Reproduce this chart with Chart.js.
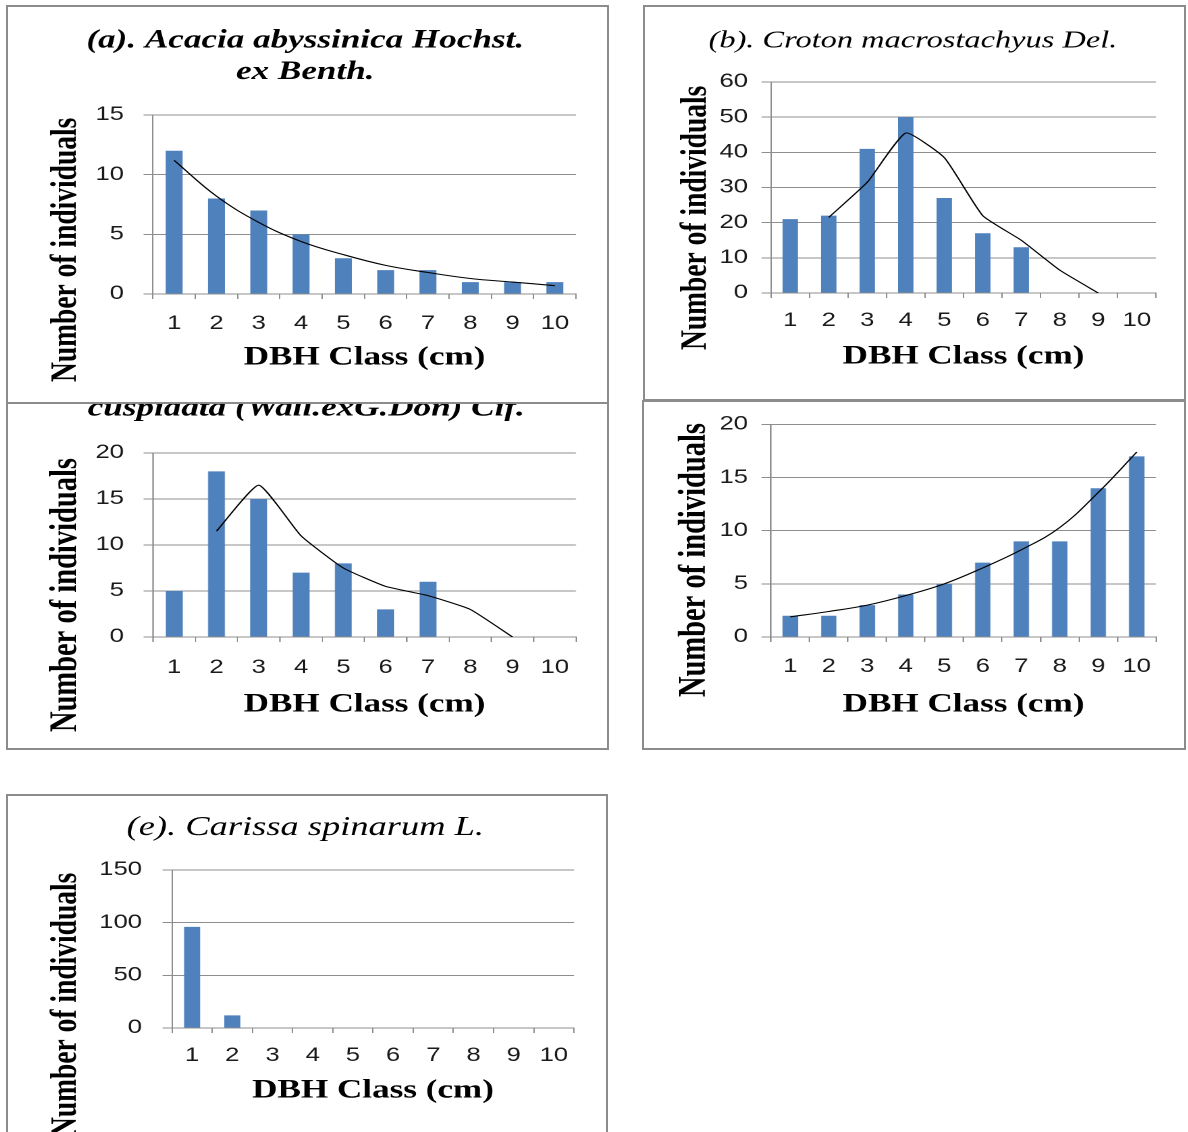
<!DOCTYPE html>
<html>
<head>
<meta charset="utf-8">
<script src="https://cdn.jsdelivr.net/npm/chart.js@4.4.0/dist/chart.umd.min.js"></script>
<style>
html, body { margin: 0; padding: 0; background: #ffffff; }
body { width: 1188px; height: 1132px; overflow: hidden; position: relative; }
.frame { position: absolute; border: 2px solid #8c8c8c; box-sizing: border-box; }
.holder { position: absolute; transform-origin: 0 0; }
.holder canvas { display: block; }
</style>
</head>
<body>
<script>
// ---------------- DATA ----------------
const dbhClasses = ['1', '2', '3', '4', '5', '6', '7', '8', '9', '10'];

const acaciaTitle = ['(a). Acacia abyssinica Hochst.', 'ex Benth.'];
const acaciaCounts = [12, 8, 7, 5, 3, 2, 2, 1, 1, 1];
const acaciaTrend = [11.2, 8.2, 6.0, 4.4, 3.3, 2.4, 1.8, 1.3, 1.0, 0.7];
const acaciaYTicks = [0, 5, 10, 15];

const crotonTitle = ['(b). Croton macrostachyus Del.'];
const crotonCounts = [21, 22, 41, 50, 27, 17, 13, 0, 0, 0];
const crotonTrend = [null, 21.5, 31.5, 45.5, 38.5, 22, 15, 6.5, 0, null];
const crotonYTicks = [0, 10, 20, 30, 40, 50, 60];

const oleaTitle = ['cuspidata (Wall.exG.Don) Cif.'];
const oleaCounts = [5, 18, 15, 7, 8, 3, 6, 0, 0, 0];
const oleaTrend = [null, 11.5, 16.5, 11, 7.5, 5.5, 4.5, 3, 0, null];
const oleaYTicks = [0, 5, 10, 15, 20];

const panelDCounts = [2, 2, 3, 4, 5, 7, 9, 9, 14, 17];
const panelDTrend = [1.9, 2.4, 3.0, 3.9, 5.0, 6.5, 8.2, 10.3, 13.6, 17.4];
const panelDYTicks = [0, 5, 10, 15, 20];

const carissaTitle = ['(e). Carissa spinarum L.'];
const carissaCounts = [96, 12, 0, 0, 0, 0, 0, 0, 0, 0];
const carissaYTicks = [0, 50, 100, 150];

const yAxisLabel = 'Number of individuals';
const xAxisLabel = 'DBH Class (cm)';

// ---------------- LAYOUT / STYLE ----------------
const S = 1.35;              // horizontal stretch of the original figure
const GRID = '#8e8e8e';
const BAR = '#4F81BD';
const TICK_FONT = { family: 'Liberation Sans', size: 19 };
const X_TITLE_SIZE = 26;
const Y_TL = 7, X_TL = 5;

const panels = [
  { id: 'e', frame: [6, 794, 602, 360], canvas: [15, 797, 595, 1140], plot: [172, 574, 870, 1028],
    yTickRight: 142, xTickY: 1056, xTitleY: 1091, yTitleX: 66, yTitleBottom: 1137,
    titleY: 828, titleFont: { size: 27, style: 'italic', weight: 'normal' }, axisSize: 27.5,
    title: carissaTitle, counts: carissaCounts, trend: null, yTicks: carissaYTicks, tension: 0, z: 1 },
  { id: 'd', frame: [642, 400, 544, 350], canvas: [650, 403, 1180, 747], plot: [771, 1156, 420, 637],
    yTickRight: 748, xTickY: 667, xTitleY: 705, yTitleX: 695, yTitleBottom: 697,
    titleY: null, titleFont: { size: 10 }, axisSize: 28.5,
    title: '', counts: panelDCounts, trend: panelDTrend, yTicks: panelDYTicks, tension: 0.4, z: 1 },
  { id: 'b', frame: [643, 5, 543, 396], canvas: [651, 8, 1175, 399], plot: [771, 1156, 82, 293],
    yTickRight: 748, xTickY: 321, xTitleY: 357, yTitleX: 696, yTitleBottom: 350,
    titleY: 41, titleFont: { size: 24, style: 'italic', weight: 'normal' }, axisSize: 27.5,
    title: crotonTitle, counts: crotonCounts, trend: crotonTrend, yTicks: crotonYTicks, tension: 0.15, z: 1 },
  { id: 'c', frame: [6, 401, 603, 349], canvas: [16, 378, 596, 747], plot: [153, 576, 453, 637],
    yTickRight: 124, xTickY: 668, xTitleY: 705, yTitleX: 66, yTitleBottom: 732,
    titleY: 409, titleFont: { size: 26, style: 'italic', weight: 'bold' }, axisSize: 28.5,
    title: oleaTitle, counts: oleaCounts, trend: oleaTrend, yTicks: oleaYTicks, tension: 0.15, z: 1 },
  { id: 'a', frame: [6, 5, 603, 399], canvas: [15, 8, 595, 401], plot: [153, 576, 115, 294],
    yTickRight: 124, xTickY: 324, xTitleY: 358, yTitleX: 66, yTitleBottom: 382,
    titleY: 41, titleFont: { size: 26, style: 'italic', weight: 'bold' }, axisSize: 27.5,
    title: acaciaTitle, counts: acaciaCounts, trend: acaciaTrend, yTicks: acaciaYTicks, tension: 0.4, z: 3, bg: true }
];

function buildPanel(p) {
  const frame = document.createElement('div');
  frame.className = 'frame';
  frame.style.left = p.frame[0] + 'px';
  frame.style.top = p.frame[1] + 'px';
  frame.style.width = p.frame[2] + 'px';
  frame.style.height = p.frame[3] + 'px';
  frame.style.zIndex = p.z;
  if (p.bg) frame.style.background = '#ffffff';
  document.body.appendChild(frame);

  const Wn = Math.round((p.canvas[2] - p.canvas[0]) / S);
  const H = p.canvas[3] - p.canvas[1];
  const nx = x => (x - p.canvas[0]) / S;
  const ny = y => y - p.canvas[1];

  const holder = document.createElement('div');
  holder.className = 'holder';
  holder.style.left = p.canvas[0] + 'px';
  holder.style.top = p.canvas[1] + 'px';
  holder.style.width = Wn + 'px';
  holder.style.height = H + 'px';
  holder.style.transform = 'scaleX(' + S + ')';
  holder.style.zIndex = p.z + 1;
  const canvas = document.createElement('canvas');
  canvas.width = Wn; canvas.height = H;
  holder.appendChild(canvas);
  document.body.appendChild(holder);

  const lhT = p.titleFont.size * 1.2;
  const nLines = Array.isArray(p.title) ? p.title.length : 1;
  const titleTop = p.titleY !== null ? ny(p.titleY) - lhT / 2 : 0;
  const titleBottom = ny(p.plot[2]) - titleTop - nLines * lhT;
  const lhA = p.axisSize * 1.2;
  const lhX = X_TITLE_SIZE * 1.2;
  const subTop = nx(p.yTitleX) - lhA / 2;
  const subW = lhA + subTop;
  const yW = nx(p.plot[0]) - subW;
  const rightW = Wn - nx(p.plot[1]);
  const padBottom = H - ny(p.yTitleBottom);
  const xH = ny(p.yTitleBottom) - ny(p.plot[3]);
  const xTickPad = (p.xTickY - p.plot[3]) - X_TL - TICK_FONT.size * 1.2 / 2;
  const xTitlePad = (p.yTitleBottom - p.xTitleY) - lhX / 2;
  const yTickPad = (p.plot[0] - p.yTickRight) / S - Y_TL;

  const datasets = [];
  if (p.trend) {
    datasets.push({ type: 'line', data: p.trend, borderColor: '#000000', borderWidth: 1.1,
      pointRadius: 0, tension: p.tension, fill: false, order: 0, spanGaps: false });
  }
  datasets.push({ type: 'bar', data: p.counts, backgroundColor: BAR, borderWidth: 0,
    barPercentage: 0.4, categoryPercentage: 1.0, order: 1 });

  const yt = p.yTicks;
  new Chart(canvas, {
    type: 'bar',
    data: { labels: dbhClasses, datasets },
    options: {
      responsive: false, animation: false, devicePixelRatio: 2,
      events: [],
      layout: { padding: { left: 0, right: 0, top: 0, bottom: padBottom } },
      plugins: {
        legend: { display: false },
        tooltip: { enabled: false },
        title: { display: true, text: p.title,
          font: Object.assign({ family: 'Liberation Serif', lineHeight: 1.2 }, p.titleFont),
          color: '#000000', padding: { top: titleTop, bottom: titleBottom } },
        subtitle: { display: true, position: 'left', align: 'start', text: yAxisLabel,
          font: { family: 'Liberation Serif', size: p.axisSize, weight: 'bold', lineHeight: 1.2 },
          color: '#000000', padding: { top: subTop, bottom: 0 } }
      },
      scales: {
        x: {
          grid: { display: true, drawOnChartArea: false, drawTicks: true, tickLength: X_TL, color: GRID, lineWidth: 1 },
          border: { display: true, color: GRID, width: 1 },
          ticks: { font: TICK_FONT, color: '#1a1a1a', padding: xTickPad, maxRotation: 0, autoSkip: false },
          title: { display: true, text: xAxisLabel,
            font: { family: 'Liberation Serif', size: X_TITLE_SIZE, weight: 'bold', lineHeight: 1.2 },
            color: '#000000', padding: { top: 0, bottom: xTitlePad } },
          afterFit: s => { s.height = xH; }
        },
        y: {
          min: yt[0], max: yt[yt.length - 1],
          ticks: { stepSize: yt[1] - yt[0], font: TICK_FONT, color: '#1a1a1a', padding: yTickPad },
          grid: { color: GRID, lineWidth: 1, drawTicks: true, tickLength: Y_TL },
          border: { display: true, color: GRID, width: 1 },
          afterFit: s => { s.width = yW; }
        },
        yR: {
          type: 'linear', position: 'right', display: true,
          grid: { display: false }, border: { display: false }, ticks: { display: false },
          afterFit: s => { s.width = rightW; }
        }
      }
    }
  });
}

panels.forEach(buildPanel);
</script>
</body>
</html>
